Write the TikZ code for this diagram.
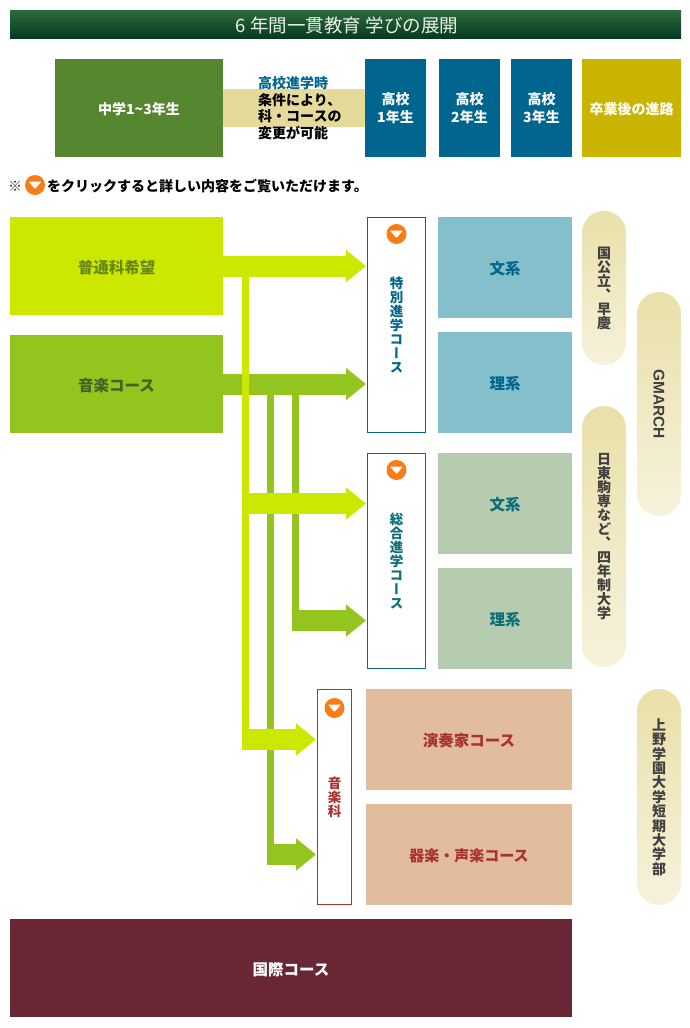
\documentclass[tikz,border=0pt]{standalone}
\usepackage{fontspec}
\usepackage{xcolor}
\usepackage{tikz}
\usetikzlibrary{arrows.meta}
\setmainfont{Noto Sans CJK JP}
\newfontfamily\vertfont[RawFeature=+vert]{Noto Sans CJK JP}
\newfontfamily\gmfont{Liberation Sans}
\definecolor{kogreen}{HTML}{56862F}
\definecolor{kotitletop}{HTML}{2E6B3C}
\definecolor{kotitlebot}{HTML}{063A22}
\definecolor{koblue}{HTML}{00658F}
\definecolor{kogold}{HTML}{C9B400}
\definecolor{koband}{HTML}{E6DA9A}
\definecolor{kolime}{HTML}{CDE800}
\definecolor{kograss}{HTML}{94C41E}
\definecolor{koteal}{HTML}{0B6E78}
\definecolor{kored}{HTML}{A8322E}
\definecolor{kosky}{HTML}{86BFCC}
\definecolor{kosage}{HTML}{B5CCB0}
\definecolor{kopeach}{HTML}{E1BD9D}
\definecolor{kowine}{HTML}{692634}
\definecolor{koorange}{HTML}{F97C16}

\begin{document}
\begin{tikzpicture}[x=1pt,y=-1pt,
  box/.style={minimum width=#1,inner sep=0pt,align=center,text height=15.5pt,font=\fontsize{15.5}{18}\selectfont\bfseries},
  toprow/.style={box=#1,minimum height=98pt,fill=koblue,text=white,text height=,font=\fontsize{14}{17.5}\selectfont\bfseries},
  course/.style={box=134pt,minimum height=101pt},
  tate/.style={draw=#1,line width=.8pt,fill=white,inner sep=0pt,minimum height=215.2pt},
  tatelab/.style={inner sep=0pt,align=center,font=\vertfont\fontsize{13.5}{14}\selectfont\bfseries},
  pill/.style={rounded corners=22pt,minimum width=44pt,minimum height=#1,inner sep=0pt,
    top color=koband!85!white,middle color=koband!95!black,bottom color=koband!35!white,shading angle=0,
    text=black!75,align=center,font=\vertfont\fontsize{14}{14}\selectfont\bfseries},
  icon/.style={circle,fill=koorange,minimum size=20pt,inner sep=0pt,
    path picture={\fill[white,rounded corners=.8pt]
      ([shift={(-6.5pt,3.5pt)}]path picture bounding box.center) --
      ([shift={(6.5pt,3.5pt)}]path picture bounding box.center) --
      ([shift={(0pt,-4pt)}]path picture bounding box.center) -- cycle;}},
  limebar/.style={draw=kolime,line width=7pt},
  grassbar/.style={draw=kograss,line width=7pt},
  limearrow/.style={draw=kolime,line width=21pt,shorten >=1pt,-{Triangle[length=20pt,width=31pt]}},
  grassarrow/.style={draw=kograss,line width=21pt,shorten >=1pt,-{Triangle[length=20pt,width=31pt]}}]
  \useasboundingbox (0,0) rectangle (690,1028);
  \node[minimum width=671pt,minimum height=28pt,inner sep=0pt,top color=kotitletop,bottom color=kotitlebot] (title) at (345.5,24) {};
  \node[inner sep=0pt,text=white!88!kogreen,font=\fontsize{18.5}{20}\selectfont] (titlelab) at (347,25) {6 年間一貫教育 学びの展開};
  \node[box=142pt,minimum height=38pt,fill=koband] (band) at (294,108) {};
  \node[box=168pt,minimum height=98pt,fill=kogreen,text=white,text height=14.5pt,font=\fontsize{14}{17}\selectfont\bfseries] (chugaku) at (139,108) {中学1\textasciitilde3年生};
  \node[toprow=61pt] (ko1) at (395.5,108) {高校\\1年生};
  \node[toprow=61pt] (ko2) at (469.5,108) {高校\\2年生};
  \node[toprow=61pt] (ko3) at (541.5,108) {高校\\3年生};
  \node[toprow=99pt,fill=kogold,text height=15pt] (sotsu) at (631.5,108) {卒業後の進路};
  \node[inner sep=0pt,align=left,anchor=west,font=\fontsize{14}{16.5}\selectfont\bfseries] (joken) at (258,108)
    {\textcolor{koblue}{高校進学時}\\条件により、\\科・コースの\\変更が可能};
  \node[inner sep=0pt,anchor=west,text=black!80,font=\fontsize{14}{15}\selectfont] (kome) at (8,186) {※};
  \node[icon] (iconnote) at (35,185) {};
  \node[inner sep=0pt,anchor=west,font=\fontsize{14}{16}\selectfont\bfseries] (note) at (47,186) {をクリックすると詳しい内容をご覧いただけます。};

  \node[box=213pt,minimum height=98pt,fill=kolime,text=kograss!70!black] (kibou) at (116.5,266) {普通科希望};
  \node[box=213pt,minimum height=98pt,fill=kograss,text=kogreen!75!black] (ongaku) at (116.5,384) {音楽コース};
  \node[tate=koblue,minimum width=58.2pt] (tokubetsu) at (396.5,325) {};
  \node[tate=koteal,minimum width=58.2pt] (sogo) at (396.5,561) {};
  \node[tate=kored,minimum width=34.2pt] (ongakuka) at (334.5,797) {};
  \node[tatelab,text=koblue] (tokubetsulab) at (396.5,325) {特\\別\\進\\学\\コ\\ー\\ス};
  \node[tatelab,text=koteal] (sogolab) at (396.5,561) {総\\合\\進\\学\\コ\\ー\\ス};
  \node[tatelab,text=kored] (ongakukalab) at (334.5,797) {音\\楽\\科};
  \node[icon] (icona) at (396.5,234) {};
  \node[icon] (iconb) at (396.5,470) {};
  \node[icon] (iconc) at (334.5,708) {};

  \coordinate (limedown) at (245.5,277);
  \coordinate (limeturn) at (245.5,729);
  \coordinate (grassa) at (270.5,395);
  \coordinate (grassaturn) at (270.5,844);
  \coordinate (grassb) at (295.5,395);
  \coordinate (grassbturn) at (295.5,610);
  \draw[grassbar] (grassa) -- (grassaturn);
  \draw[grassbar] (grassb) -- (grassbturn);
  \draw[grassarrow] (267,854.5) -- (ongakuka.west |- 0,854.5);
  \draw[grassarrow] (292,620.5) -- (sogo.west |- 0,620.5);
  \draw[grassarrow] (ongaku.east) -- (tokubetsu.west |- ongaku.east);
  \draw[limebar] (limedown) -- (limeturn);
  \draw[limearrow] (kibou.east) -- (tokubetsu.west |- kibou.east);
  \draw[limearrow] (249,503.5) -- (sogo.west |- 0,503.5);
  \draw[limearrow] (242,739.5) -- (ongakuka.west |- 0,739.5);

  \node[course,fill=kosky,text=koblue] (bun1) at (505,267.5) {文系};
  \node[course,fill=kosky,text=koblue] (ri1) at (505,382.5) {理系};
  \node[course,fill=kosage,text=koteal] (bun2) at (505,503.5) {文系};
  \node[course,fill=kosage,text=koteal] (ri2) at (505,618.5) {理系};
  \node[box=206pt,minimum height=101pt,fill=kopeach,text=kored] (ensou) at (469,739.5) {演奏家コース};
  \node[box=206pt,minimum height=101pt,fill=kopeach,text=kored,font=\fontsize{15}{18}\selectfont\bfseries] (kigaku) at (469,854.5) {器楽・声楽コース};
  \node[box=562pt,minimum height=98pt,fill=kowine,text=white] (kokusai) at (291,968) {国際コース};

  \node[pill=154pt] (kokkou) at (604,288) {国\\公\\立\\、\\早\\慶};
  \node[pill=224pt,font=\gmfont\fontsize{15.5}{15.5}\selectfont\bfseries] (gmarch) at (659,404) {\rotatebox{-90}{GMARCH}};
  \node[pill=261pt] (nitto) at (604,536.5) {日\\東\\駒\\専\\な\\ど\\、\\四\\年\\制\\大\\学};
  \node[pill=216pt,font=\vertfont\fontsize{14}{14.4}\selectfont\bfseries] (ueno) at (659,797) {上\\野\\学\\園\\大\\学\\短\\期\\大\\学\\部};
\end{tikzpicture}
\end{document}
